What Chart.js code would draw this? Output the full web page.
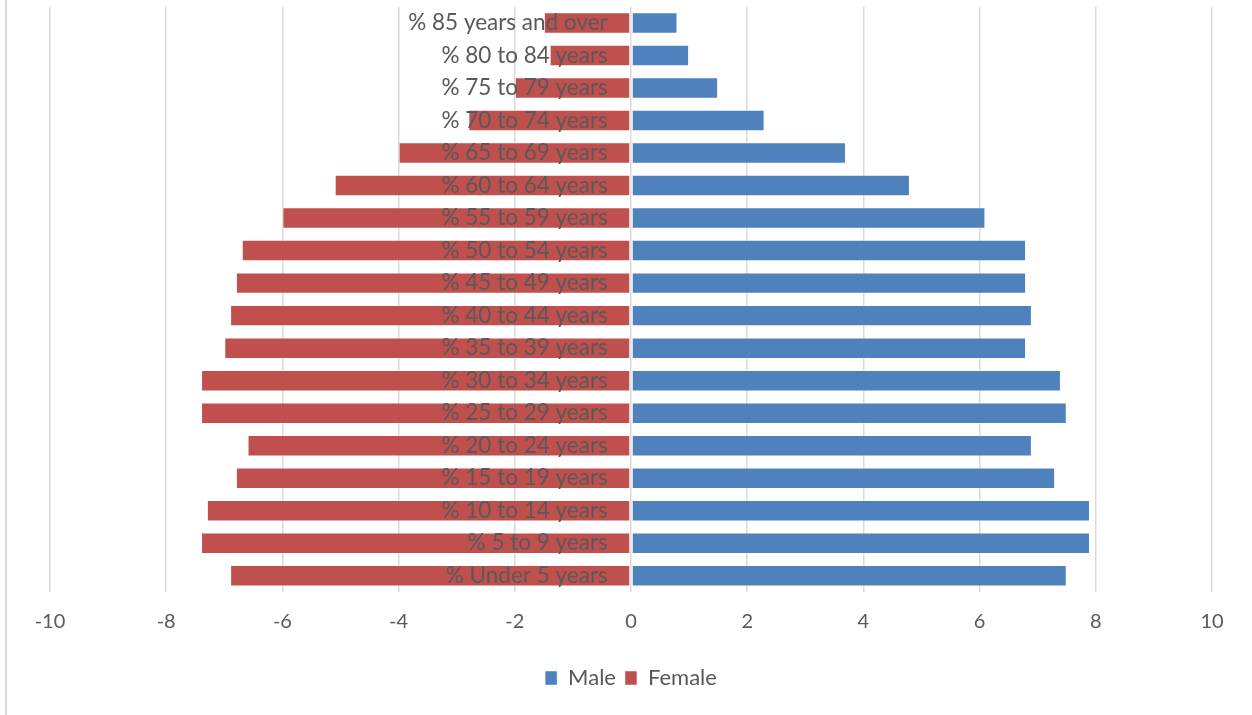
<!DOCTYPE html>
<html>
<head>
<meta charset="utf-8">
<script src="https://cdn.jsdelivr.net/npm/chart.js@4.4.1/dist/chart.umd.min.js"></script>
<style>
  html, body { margin: 0; padding: 0; background: #ffffff; }
  #wrap { position: relative; width: 1252px; height: 715px; }
  #frame { position: absolute; left: 5px; top: 0; width: 0; height: 715px; border-left: 2px solid #d9d9d9; }
  canvas { position: absolute; left: 0; top: 0; }
</style>
</head>
<body>
<div id="wrap">
  <div id="frame"></div>
  <canvas id="c" width="1252" height="715"></canvas>
</div>
<script>
const categories = [
  "% 85 years and over", "% 80 to 84 years", "% 75 to 79 years", "% 70 to 74 years",
  "% 65 to 69 years", "% 60 to 64 years", "% 55 to 59 years", "% 50 to 54 years",
  "% 45 to 49 years", "% 40 to 44 years", "% 35 to 39 years", "% 30 to 34 years",
  "% 25 to 29 years", "% 20 to 24 years", "% 15 to 19 years", "% 10 to 14 years",
  "% 5 to 9 years", "% Under 5 years"
];
const maleValues = [0.8, 1.0, 1.5, 2.3, 3.7, 4.8, 6.1, 6.8, 6.8, 6.9, 6.8, 7.4, 7.5, 6.9, 7.3, 7.9, 7.9, 7.5];
const femaleValues = [-1.5, -1.4, -2.0, -2.8, -4.0, -5.1, -6.0, -6.7, -6.8, -6.9, -7.0, -7.4, -7.4, -6.6, -6.8, -7.3, -7.4, -6.9];
const xTicks = [-10, -8, -6, -4, -2, 0, 2, 4, 6, 8, 10];

const FONT = "Lato, 'Liberation Sans', sans-serif";
const TEXT = "#595959";

new Chart(document.getElementById("c"), {
  type: "bar",
  data: {
    labels: categories,
    datasets: [
      { label: "Male", data: maleValues, backgroundColor: "#4F81BD",
        borderColor: "rgba(255,255,255,0.45)", borderWidth: 1, borderSkipped: false },
      { label: "Female", data: femaleValues, backgroundColor: "#C0504D",
        borderColor: "rgba(255,255,255,0.45)", borderWidth: 1, borderSkipped: false }
    ]
  },
  options: {
    indexAxis: "y",
    responsive: false,
    animation: false,
    layout: { padding: { left: 50, right: 40, top: 0, bottom: 16 } },
    datasets: { bar: { categoryPercentage: 1.0, barPercentage: 0.66 } },
    scales: {
      x: {
        type: "linear",
        stacked: true,
        min: -10, max: 10,
        afterBuildTicks: (s) => { s.ticks = xTicks.map(v => ({ value: v })); },
        afterFit: (s) => { s.height = 66; },
        grid: { color: "#d9d9d9", lineWidth: 1.5, drawTicks: false },
        border: { display: false },
        ticks: { color: TEXT, font: { family: FONT, size: 20 }, padding: 18, maxRotation: 0 }
      },
      y: {
        type: "category",
        stacked: true,
        position: { x: -0.4 },
        grid: { display: false, drawTicks: false },
        border: { display: false },
        ticks: { color: TEXT, font: { family: FONT, size: 22.5, lineHeight: 0.6 }, padding: 0, z: 1 }
      }
    },
    plugins: {
      legend: {
        position: "bottom",
        labels: { color: TEXT, font: { family: FONT, size: 22 }, boxWidth: 12, boxHeight: 14, padding: 9 }
      },
      tooltip: { enabled: false }
    }
  }
});
</script>
</body>
</html>
